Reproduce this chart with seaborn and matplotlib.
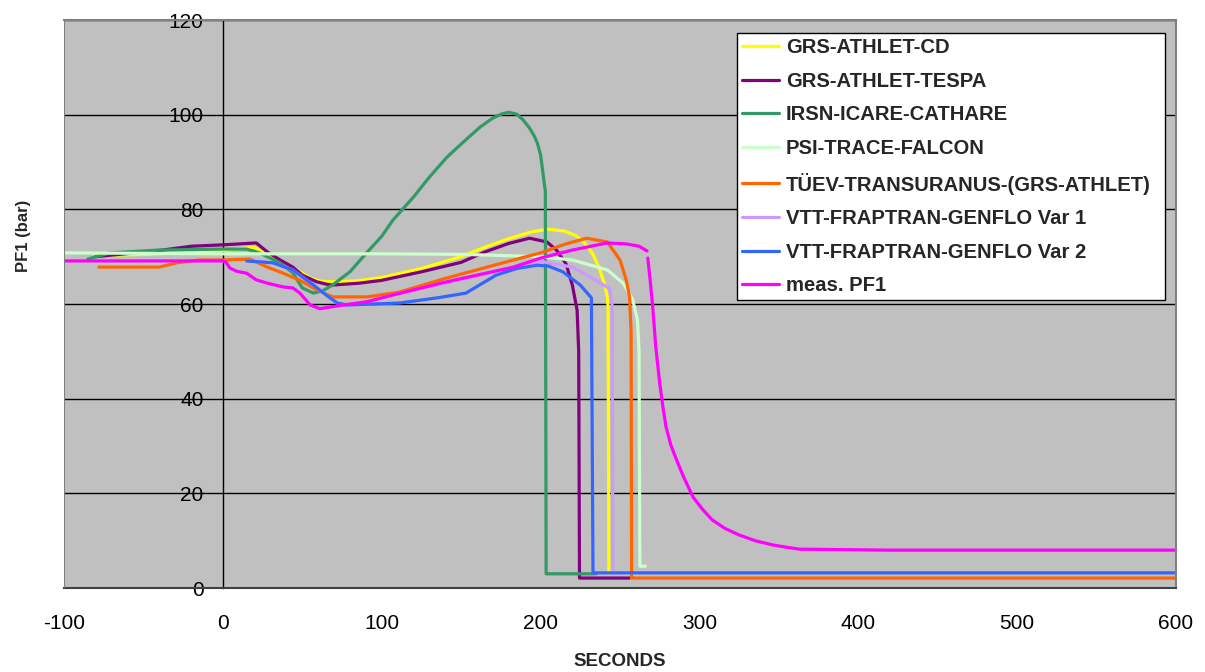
import numpy as np
import pandas as pd
import matplotlib
matplotlib.use("Agg")
import matplotlib.pyplot as plt
import seaborn as sns

# ---- data ----
cd_x = [-80, -40, 0, 20, 25, 35, 45, 55, 62, 70, 85, 100, 125, 150, 165, 180, 195, 205, 215, 222, 228, 233, 237, 240, 242, 242.5, 243]
cd_y = [70.2, 70.6, 71.3, 72.0, 71.0, 69.3, 67.5, 65.5, 64.8, 64.7, 64.9, 65.6, 67.5, 70.0, 72.0, 73.8, 75.3, 75.8, 75.4, 74.5, 72.8, 70.5, 67.5, 64.5, 61.5, 59.5, 3.2]

tespa_x = [-80, -40, -20, 0, 21, 28, 36, 44, 50, 59, 65, 69, 86, 100, 125, 150, 165, 180, 193, 204, 210, 216, 220, 223, 224, 224.5, 256]
tespa_y = [70.0, 71.3, 72.2, 72.5, 72.9, 71.0, 69.3, 67.8, 66.1, 64.7, 64.2, 64.0, 64.4, 65.0, 66.8, 68.8, 71.0, 72.8, 73.9, 73.1, 71.4, 68.5, 64.0, 58.7, 50.0, 2.1, 2.1]

irsn_x = [-85, -71, -40, 0, 15, 23, 36, 44, 50, 57, 63, 69, 80, 91, 100, 107, 120, 130, 141, 150, 162, 170, 176, 180, 185, 189, 193, 196, 198, 200, 201.5, 202.5, 203, 203.5, 235]
irsn_y = [69.5, 70.8, 71.4, 71.6, 71.6, 70.8, 68.7, 66.6, 63.4, 62.3, 62.8, 64.0, 66.8, 71.0, 74.3, 77.7, 82.6, 86.8, 91.0, 93.8, 97.4, 99.3, 100.2, 100.5, 100.1, 98.9, 97.2, 95.5, 94.0, 91.5, 87.7, 85.0, 84.0, 3.0, 3.0]

psi_x = [-100, 0, 100, 150, 200, 220, 242, 252, 258, 261, 262, 262.5, 266]
psi_y = [70.8, 70.6, 70.6, 70.5, 70.0, 69.3, 67.2, 64.4, 60.9, 56.6, 50.0, 4.6, 4.6]

tuev_x = [-78, -40, -29, -15, 0, 17, 28, 38, 48.5, 59, 69, 91, 111, 141, 183, 200, 215, 229, 242, 250, 254, 256, 257, 257.3, 600]
tuev_y = [67.8, 67.8, 68.7, 69.3, 69.3, 69.5, 67.8, 66.5, 65.0, 63.0, 61.5, 61.5, 62.5, 65.5, 69.3, 70.8, 72.6, 73.9, 73.1, 69.3, 65.0, 61.5, 54.0, 2.1, 2.1]

var1_x = [15, 31.5, 44, 57, 65, 72, 78, 90, 100, 141, 183, 200, 220, 235, 243.5, 245, 245.5]
var1_y = [69.1, 68.7, 67.2, 64.0, 61.9, 60.2, 59.8, 60.3, 61.3, 64.5, 67.6, 69.0, 67.8, 65.0, 63.2, 60.0, 3.2]

var2_x = [15, 31.5, 44, 57, 65, 72, 78, 111, 135, 153, 172, 185, 198, 205, 214, 225, 232, 233, 600]
var2_y = [69.1, 68.7, 67.2, 64.0, 61.9, 60.2, 59.8, 60.2, 61.3, 62.3, 66.1, 67.5, 68.2, 68.0, 66.8, 64.0, 61.3, 3.2, 3.2]

meas_x1 = [-100, 0, 2, 4.4, 8.8, 15, 21, 28, 38, 44, 48.5, 55, 61, 72, 91, 107, 141, 183, 200, 220, 242, 254, 262, 267]
meas_y1 = [69.1, 69.1, 68.8, 67.6, 66.9, 66.5, 65.1, 64.4, 63.6, 63.4, 62.3, 59.8, 59.0, 59.6, 60.5, 61.9, 64.7, 67.8, 69.7, 71.4, 72.9, 72.7, 72.2, 71.2]
meas_x2 = [267.5, 269, 270.6, 272.5, 275, 277, 279, 282, 285.7, 290, 296, 302, 308, 316, 325, 335, 346, 355, 363, 420, 600]
meas_y2 = [69.7, 65.0, 59.4, 51.0, 43.3, 38.3, 34.0, 30.2, 27.0, 23.5, 19.2, 16.6, 14.4, 12.6, 11.2, 10.0, 9.1, 8.6, 8.2, 8.0, 8.0]

series_names = ["GRS-ATHLET-CD", "GRS-ATHLET-TESPA", "IRSN-ICARE-CATHARE", "PSI-TRACE-FALCON",
                "TÜEV-TRANSURANUS-(GRS-ATHLET)", "VTT-FRAPTRAN-GENFLO Var 1",
                "VTT-FRAPTRAN-GENFLO Var 2", "meas. PF1"]
series_colors = ["#FFFF00", "#800080", "#339966", "#CCFFCC", "#FF6600", "#CC99FF", "#3366FF", "#FF00FF"]

x_ticks = [-100, 0, 100, 200, 300, 400, 500, 600]
y_ticks = [0, 20, 40, 60, 80, 100, 120]

# ---- long-form table ----
parts = [
    (series_names[0], 0, cd_x, cd_y),
    (series_names[1], 0, tespa_x, tespa_y),
    (series_names[2], 0, irsn_x, irsn_y),
    (series_names[3], 0, psi_x, psi_y),
    (series_names[4], 0, tuev_x, tuev_y),
    (series_names[5], 0, var1_x, var1_y),
    (series_names[6], 0, var2_x, var2_y),
    (series_names[7], 0, meas_x1, meas_y1),
    (series_names[7], 1, meas_x2, meas_y2),
]
frames = []
for name, seg, xs, ys in parts:
    frames.append(pd.DataFrame({"t": xs, "p": ys, "series": name, "seg": seg}))
df = pd.concat(frames, ignore_index=True)

sns.set_style("white")
plt.rcParams["font.family"] = ["Liberation Sans", "DejaVu Sans"]
plt.rcParams["axes.unicode_minus"] = False

fig = plt.figure(figsize=(12.05, 6.72), dpi=100)
ax = fig.add_axes([64 / 1205, 1 - 588 / 672, (1176 - 64) / 1205, (588 - 20) / 672])
ax.set_facecolor("#C0C0C0")

# gridlines
for yv in y_ticks[1:]:
    ax.axhline(yv, color="black", lw=1.0, zorder=0.5)

sns.lineplot(data=df, x="t", y="p", hue="series", units="seg", estimator=None,
             sort=False, hue_order=series_names, palette=series_colors,
             lw=2.3, ax=ax, legend=True, zorder=2)

ax.set_xlim(-100, 600)
ax.set_ylim(0, 120)
ax.set_xticks(x_ticks)
ax.set_yticks(y_ticks)

# axes styling: y axis crosses at x=0
ax.spines["left"].set_position(("data", 0))
ax.spines["left"].set_color("black")
ax.spines["left"].set_linewidth(1.0)
ax.spines["left"].set_zorder(1)
ax.spines["bottom"].set_color("#404040")
ax.spines["bottom"].set_linewidth(1.5)
for s in ["top", "right"]:
    ax.spines[s].set_color("#808080")
    ax.spines[s].set_linewidth(1.5)
ax.axvline(-100, color="#808080", lw=1.5, zorder=3)

ax.tick_params(axis="y", direction="out", length=6, width=1, pad=8, labelsize=15, colors="black")
ax.tick_params(axis="x", direction="out", length=6, width=1, pad=13, labelsize=15, colors="black")
ax.tick_params(axis="x", color="#404040")

ax.set_xlabel("SECONDS", fontsize=13.5, fontweight="bold")
ax.set_ylabel("PF1 (bar)", fontsize=12, fontweight="bold")
ax.xaxis.set_label_coords(0.5, -0.115)
ax.yaxis.set_label_coords(-0.030, 0.62)

handles, labels = ax.get_legend_handles_labels()
leg = ax.legend(handles, labels, loc="upper left",
                bbox_to_anchor=((737 - 64) / 1112, 0.507, 428 / 1112, 0.470),
                mode="expand", borderaxespad=0.0,
                frameon=True, fancybox=False, framealpha=1, edgecolor="black",
                facecolor="white", borderpad=0.25, labelspacing=0.72, handlelength=1.8,
                handletextpad=0.35,
                prop={"family": ["Liberation Sans", "DejaVu Sans"], "weight": "bold", "size": 14.6})
leg.get_frame().set_linewidth(1.0)
for h in leg.get_lines():
    h.set_linewidth(2.3)

fig.savefig("out.png", dpi=100)
